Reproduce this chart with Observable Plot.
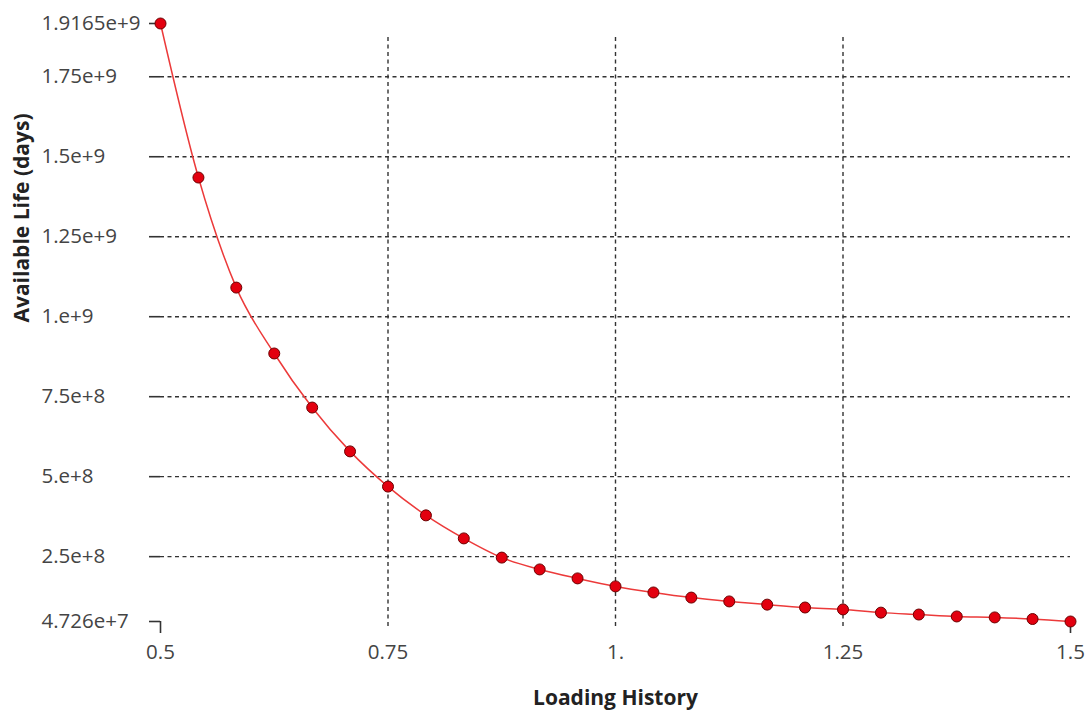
<!DOCTYPE html>
<html>
<head>
<meta charset="utf-8">
<script src="https://cdn.jsdelivr.net/npm/d3@7"></script>
<script src="https://cdn.jsdelivr.net/npm/@observablehq/plot@0.6"></script>
<style>
  html, body { margin: 0; padding: 0; background: #fff; }
  #chart { width: 1091px; height: 711px; }
</style>
</head>
<body>
<div id="chart"></div>
<script>
// ---- data ----
const loadingHistory = [0.5, 0.5417, 0.5833, 0.625, 0.6667, 0.7083, 0.75, 0.7917, 0.8333, 0.875,
  0.9167, 0.9583, 1.0, 1.0417, 1.0833, 1.125, 1.1667, 1.2083, 1.25, 1.2917,
  1.3333, 1.375, 1.4167, 1.4583, 1.5];
const availableLife = [1.9165e9, 1.435e9, 1.091e9, 8.85e8, 7.16e8, 5.79e8, 4.69e8, 3.79e8, 3.07e8, 2.47e8,
  2.10e8, 1.82e8, 1.57e8, 1.38e8, 1.22e8, 1.10e8, 1.00e8, 9.1e7, 8.5e7, 7.5e7,
  6.9e7, 6.3e7, 6.0e7, 5.5e7, 4.726e7];

const xDomain = [0.5, 1.5];
const yDomain = [4.726e7, 1.9165e9];
const xTicks = [0.5, 0.75, 1.0, 1.25, 1.5];
const xTickLabels = ["0.5", "0.75", "1.", "1.25", "1.5"];
const xGrid = [0.75, 1.0, 1.25];
const yTicks = [4.726e7, 2.5e8, 5e8, 7.5e8, 1e9, 1.25e9, 1.5e9, 1.75e9, 1.9165e9];
const yTickLabels = ["4.726e+7", "2.5e+8", "5.e+8", "7.5e+8", "1.e+9", "1.25e+9", "1.5e+9", "1.75e+9", "1.9165e+9"];
const yGrid = [2.5e8, 5e8, 7.5e8, 1e9, 1.25e9, 1.5e9, 1.75e9];
const xTitle = "Loading History";
const yTitle = "Available Life (days)";

const data = loadingHistory.map((x, i) => ({x, y: availableLife[i]}));
const xTickTable = xTicks.map((v, i) => ({v, label: xTickLabels[i]}));
const yTickTable = yTicks.map((v, i) => ({v, label: yTickLabels[i]}));

const font = "'Open Sans', 'Noto Sans', sans-serif";
const gridColor = "#333";

const chart = Plot.plot({
  width: 1091,
  height: 711,
  marginLeft: 160,
  marginRight: 21,
  marginTop: 23,
  marginBottom: 90,
  x: {domain: xDomain, axis: null},
  y: {domain: yDomain, axis: null},
  style: {fontFamily: font, background: "#fff", overflow: "visible"},
  marks: [
    // horizontal dashed grid
    Plot.ruleY(yGrid, {y: d => d, x1: xDomain[0], x2: xDomain[1], stroke: gridColor, strokeWidth: 1.4, strokeDasharray: "4,3.5"}),
    // vertical dashed grid (extends a bit below the frame)
    Plot.ruleX(xGrid, {x: d => d, y1: yDomain[0], y2: yDomain[1], insetTop: 5, insetBottom: -14, stroke: gridColor, strokeWidth: 1.4, strokeDasharray: "4,3.5"}),
    // y tick marks (solid, left of the frame)
    Plot.ruleY(yTicks, {y: d => d, x1: xDomain[0], x2: xDomain[0], insetLeft: -11, insetRight: 0, stroke: gridColor, strokeWidth: 1.6}),
    // x tick marks at the ends (solid, below the frame)
    Plot.ruleX([xDomain[0], xDomain[1]], {x: d => d, y1: yDomain[0], y2: yDomain[0], insetBottom: -12, stroke: gridColor, strokeWidth: 1.6}),
    // series
    Plot.line(data, {x: "x", y: "y", stroke: "#ec3a3a", strokeWidth: 1.5, curve: "monotone-x"}),
    Plot.dot(data, {x: "x", y: "y", r: 5.5, fill: "#e3000f", stroke: "#6a0000", strokeWidth: 1}),
    // y tick labels (left aligned)
    Plot.text(yTickTable, {y: "v", text: "label", frameAnchor: "left", textAnchor: "start", dx: -119, fontSize: 20.5, fill: "#444"}),
    // x tick labels
    Plot.text(xTickTable, {x: "v", text: "label", frameAnchor: "bottom", lineAnchor: "middle", dy: 31, fontSize: 20.5, fill: "#444"}),
    // axis titles
    Plot.text([xTitle], {text: d => d, frameAnchor: "bottom", lineAnchor: "middle", dy: 77, fontSize: 21, fontWeight: "bold", fill: "#222"}),
    Plot.text([yTitle], {text: d => d, frameAnchor: "left", rotate: -90, lineAnchor: "middle", dx: -138, fontSize: 21, fontWeight: "bold", fill: "#222"})
  ]
});
document.getElementById("chart").append(chart);
</script>
</body>
</html>
